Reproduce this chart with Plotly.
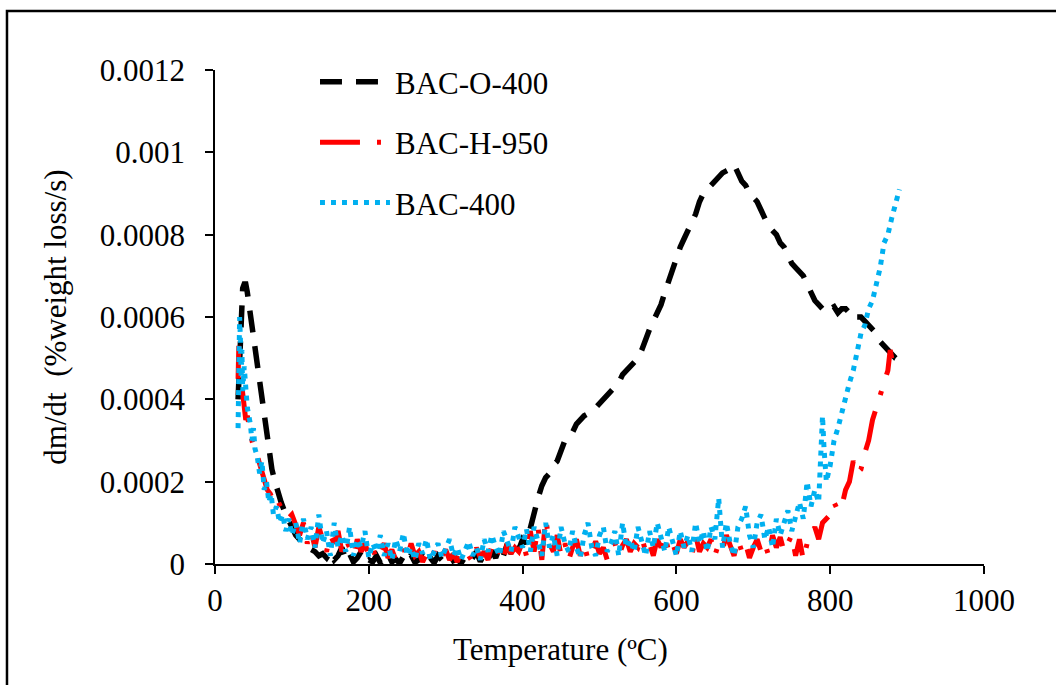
import plotly.graph_objects as go

# ---------------- data (y in units of 1e-5 %weight loss/s) ----------------
Y_UNIT = 1e-5

t_o400 = [30, 32, 34, 36, 38, 40, 42, 45, 48, 51, 54, 57, 60, 63, 66, 70, 74, 78, 82, 86,
          90, 95, 100, 105, 110, 115, 120, 125, 130, 135, 140, 145, 150, 155, 160, 165, 170,
          175, 180, 185, 190, 195, 200, 205, 210, 215, 220, 225, 230, 235, 240, 245, 250,
          255, 260, 265, 270, 275, 280, 285, 290, 295, 300, 305, 310, 315, 320, 325, 330,
          335, 340, 345, 350, 355, 360, 365, 370, 375, 380, 385, 390, 395, 400, 405, 410,
          415, 420, 425, 430, 435, 440, 445, 450, 455, 460, 465, 470, 475, 480, 485, 490,
          495, 500, 505, 510, 515, 520, 525, 530, 535, 540, 545, 550, 555, 560, 565, 570,
          575, 580, 585, 590, 595, 600, 605, 610, 615, 620, 625, 630, 635, 640, 645, 650,
          655, 660, 665, 670, 675, 680, 685, 690, 695, 700, 705, 710, 715, 720, 725, 730,
          735, 740, 745, 750, 755, 760, 765, 770, 775, 780, 785, 790, 795, 800, 805, 810,
          815, 820, 825, 830, 835, 840, 845, 850, 855, 860, 865, 870, 875, 880, 885, 890, 895]
v_o400 = [40, 52, 62, 67, 68, 68, 66, 62, 57, 53, 50, 46, 42, 37, 33, 27, 23, 20, 17, 15,
          13, 11, 9, 7, 6, 5, 4, 3.5, 3, 2, 2.5, 1.5, 3, 1, 2, 4, 1,
          2.5, 0.5, 1.5, 3, 0.5, 1, 0.5, 2, 0.3, 1, 2.5, 0.5, 1.2, 0.2, 1.8, 0.6,
          2.2, 0.4, 1, 2.8, 0.5, 1.5, 0.3, 2, 1, 0.5, 2.5, 0.8, 1.2, 0.2, 1.6, 0.4,
          1.5, 3, 0.6, 2.4, 1, 3.2, 1.5, 4, 2, 4.8, 2.5, 5, 3.5, 6, 5, 9,
          12, 16, 19, 21, 22, 24, 25, 28, 30, 31, 32, 34, 35, 36, 36.5, 37,
          38, 39, 40, 41, 42, 43, 44, 46, 47, 48, 49, 50, 52, 55, 57, 59,
          61, 63, 66, 69, 72, 75, 77, 79, 81, 83, 85, 88, 90, 91, 92, 93,
          94, 95, 95.5, 96, 97, 95, 93, 92, 90, 89, 88, 86, 84, 82, 81, 80,
          78, 77, 75, 73, 72, 71, 70, 68, 66, 64, 63, 62, 63, 62, 62.5, 61,
          62, 62, 61, 61.5, 60, 60, 59, 58, 57, 56, 54, 53, 52, 51, 50, 49.5, 50]

t_h950 = [30, 31, 32, 34, 36, 38, 40, 42, 45, 48, 51, 54, 57, 60, 64, 68, 72, 76, 80, 85,
          90, 95, 100, 105, 110, 115, 120, 125, 130, 135, 140, 145, 150, 155, 160, 165, 170,
          175, 180, 185, 190, 195, 200, 205, 210, 215, 220, 225, 230, 235, 240, 245, 250,
          255, 260, 265, 270, 275, 280, 285, 290, 295, 300, 305, 310, 315, 320, 325, 330,
          335, 340, 345, 350, 355, 360, 365, 370, 375, 380, 385, 390, 395, 400, 405, 410,
          415, 420, 425, 430, 435, 440, 445, 450, 455, 460, 465, 470, 475, 480, 485, 490,
          495, 500, 505, 510, 515, 520, 525, 530, 535, 540, 545, 550, 555, 560, 565, 570,
          575, 580, 585, 590, 595, 600, 605, 610, 615, 620, 625, 630, 635, 640, 645, 650,
          655, 660, 665, 670, 675, 680, 685, 690, 695, 700, 705, 710, 715, 720, 725, 730,
          735, 740, 745, 750, 755, 760, 765, 770, 775, 780, 785, 790, 795, 800, 805, 810,
          815, 820, 825, 830, 835, 840, 845, 850, 855, 860, 865, 870, 875, 878, 880]
v_h950 = [45, 53, 48, 44, 40, 38, 35, 36, 32, 30, 28, 27, 25, 23, 20, 18, 17, 15, 16, 14,
          13, 11, 12, 9, 7, 10, 5, 8, 4, 9, 6, 3, 7, 5, 8, 3, 6,
          4, 2, 6, 3, 5, 2, 4, 1, 3, 5, 1.5, 3.5, 1, 2.5, 4, 1.5,
          5, 2, 3, 0.5, 2.5, 1, 3, 0.5, 2, 3.5, 1, 2.5, 0.5, 3, 1.5, 2,
          0.5, 4, 1.5, 3, 1, 4.5, 2, 3.5, 1, 5, 2.5, 4, 3, 5.5, 2, 8,
          3, 9, 1, 11, 5, 3, 7, 2, 5, 1, 4, 6, 2, 5, 1, 3.5,
          5.5, 2.5, 4, 1, 3, 5, 2, 4.5, 6, 3, 5, 4, 6.5, 3, 5, 2,
          6, 4, 7, 3, 5, 2.5, 6, 4, 5.5, 2, 7, 3, 5, 4, 6, 2,
          5, 3.5, 7, 4, 2, 6, 3, 5, 1.5, 4, 6, 3, 5, 2, 7, 4,
          6.5, 3, 5, 7, 2, 6, 1, 5, 7, 9, 6, 10, 11, 12, 15, 13,
          14, 18, 20, 25, 22, 23, 27, 30, 35, 38, 42, 45, 47, 52, 50]

t_400 = [30, 31, 32, 33, 34, 35, 36, 38, 40, 42, 44, 46, 48, 50, 52, 55, 58, 61, 64, 67,
         70, 73, 76, 80, 84, 88, 92, 96, 100, 105, 110, 115, 120, 125, 130, 135, 140, 145,
         150, 155, 160, 165, 170, 175, 180, 185, 190, 195, 200, 205, 210, 215, 220, 225,
         230, 235, 240, 245, 250, 255, 260, 265, 270, 275, 280, 285, 290, 295, 300, 305,
         310, 315, 320, 325, 330, 335, 340, 345, 350, 355, 360, 365, 370, 375, 380, 385,
         390, 395, 400, 405, 410, 415, 420, 425, 430, 435, 440, 445, 450, 455, 460, 465,
         470, 475, 480, 485, 490, 495, 500, 505, 510, 515, 520, 525, 530, 535, 540, 545,
         550, 555, 560, 565, 570, 575, 580, 585, 590, 595, 600, 605, 610, 615, 620, 625,
         630, 635, 640, 645, 650, 655, 660, 665, 670, 675, 680, 685, 690, 695, 700, 705,
         710, 715, 720, 725, 730, 735, 740, 745, 750, 755, 760, 765, 770, 775, 780, 785,
         788, 790, 792, 795, 800, 805, 810, 815, 820, 825, 830, 835, 840, 845, 850, 855,
         860, 865, 870, 875, 880, 885, 890]
v_400 = [33, 50, 60, 55, 45, 52, 42, 48, 40, 38, 36, 34, 30, 33, 28, 26, 22, 25, 18, 20,
         15, 17, 12, 14, 10, 12, 8, 11, 7, 10, 5, 11, 6, 9, 4, 12, 5, 8,
         2, 10, 4, 7, 3, 9, 2, 6, 4, 8, 1.5, 5, 3, 7, 2, 5,
         1, 6, 3, 7.5, 2, 4, 1, 5, 2.5, 6, 1, 3, 5, 1.5, 3.5, 6,
         2, 4, 1, 3, 5.5, 2, 4, 1, 6, 3, 7, 4, 2, 8, 5, 3,
         9, 6, 4, 8.5, 3, 9, 5, 2, 10, 4, 7, 2, 9, 5, 3, 8,
         4, 1.5, 7, 10, 4, 2, 7, 9, 3, 5, 8, 2, 10, 4, 6, 3,
         9, 5, 2, 8, 4, 10, 6, 3, 9, 5, 2, 8, 4, 7, 3, 10,
         5, 8, 3, 9, 6, 16, 4, 10, 5, 2, 9, 11, 14, 7, 4, 10,
         12, 6, 9, 4, 11, 7, 10, 13, 8, 12, 15, 11, 20, 14, 18, 15,
         25, 36, 28, 20, 24, 30, 33, 37, 40, 44, 47, 52, 56, 58, 62, 64,
         68, 72, 78, 80, 84, 88, 91]

x_ticks = [0, 200, 400, 600, 800, 1000]
y_ticks = [0, 0.0002, 0.0004, 0.0006, 0.0008, 0.001, 0.0012]
y_tick_text = ["0", "0.0002", "0.0004", "0.0006", "0.0008", "0.001", "0.0012"]

FONT = "Liberation Serif, Times New Roman, serif"

fig = go.Figure()
fig.add_trace(go.Scatter(
    x=t_o400, y=[v * Y_UNIT for v in v_o400], mode="lines", name="BAC-O-400",
    legendgroup="a", line=dict(color="black", width=5.5, dash="22px,14px")))
fig.add_trace(go.Scatter(
    x=t_h950, y=[v * Y_UNIT for v in v_h950], mode="lines", name="BAC-H-950",
    legendgroup="b", line=dict(color="#FF0000", width=5, dash="40px,17px,4px,17px")))
fig.add_trace(go.Scatter(
    x=t_400, y=[v * Y_UNIT for v in v_400], mode="lines", name="BAC-400",
    legendgroup="c", line=dict(color="#00B0F0", width=5, dash="5px,6px")))

fig.update_layout(
    width=1056, height=685,
    margin=dict(l=215, r=72, t=70, b=121),
    paper_bgcolor="white", plot_bgcolor="white",
    font=dict(family=FONT, size=31, color="black"),
    showlegend=True,
    legend=dict(x=0.13, y=1.03, xanchor="left", yanchor="top",
                bgcolor="rgba(0,0,0,0)", font=dict(family=FONT, size=31, color="black"),
                traceorder="grouped", tracegroupgap=17, itemwidth=70),
    xaxis=dict(range=[0, 1000], tickvals=x_ticks, ticks="outside", ticklen=8,
               tickwidth=1.5, tickcolor="black", showline=True, linecolor="black",
               linewidth=1.5, showgrid=False, zeroline=False,
               tickfont=dict(family=FONT, size=31, color="black")),
    yaxis=dict(range=[0, 0.0012], tickvals=y_ticks, ticktext=y_tick_text,
               ticks="outside", ticklen=8, tickwidth=1.5, tickcolor="black",
               showline=True, linecolor="black", linewidth=1.5, showgrid=False,
               zeroline=False, ticklabelstandoff=14,
               tickfont=dict(family=FONT, size=31, color="black"),
               title=dict(text="dm/dt\u00a0 (%weight loss/s)", standoff=24,
                          font=dict(family=FONT, size=31, color="black"))),
    annotations=[dict(text="Temperature (ºC)", xref="paper", yref="paper",
                      x=0.449, y=-0.174, xanchor="center", yanchor="middle",
                      showarrow=False, font=dict(family=FONT, size=31, color="black"))],
    shapes=[dict(type="rect", xref="paper", yref="paper",
                 x0=-0.2705, x1=1.2, y0=-0.4, y1=1.1194,
                 line=dict(color="black", width=2.5), fillcolor="rgba(0,0,0,0)",
                 layer="above")],
)

fig.write_html("out.html")
